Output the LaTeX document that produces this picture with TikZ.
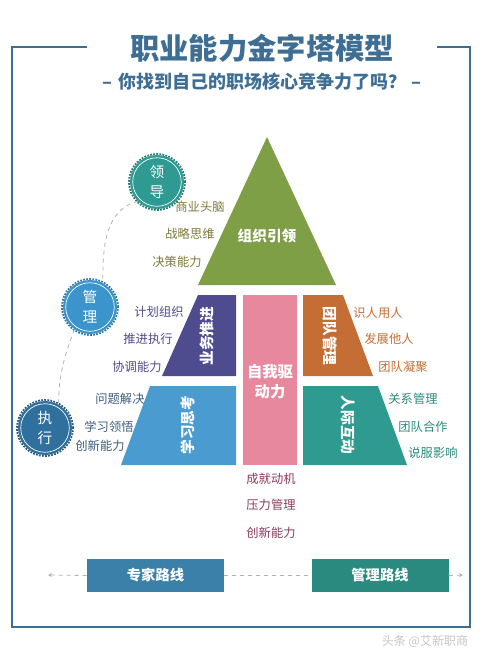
\documentclass[tikz,border=0pt]{standalone}
\usepackage{fontspec}
\setmainfont{Noto Sans CJK SC}
\usetikzlibrary{arrows.meta}
\definecolor{titleblue}{HTML}{3E6E94}
\definecolor{cgreen}{HTML}{7E9F45}
\definecolor{cpurple}{HTML}{4E4B8E}
\definecolor{cblue}{HTML}{4A9CD0}
\definecolor{cpink}{HTML}{E8889F}
\definecolor{corange}{HTML}{C46E35}
\definecolor{cteal}{HTML}{2E9A90}
\definecolor{colive}{HTML}{7F7A3C}
\definecolor{cslate}{HTML}{3E5E7C}
\definecolor{cmaroon}{HTML}{8E3A5A}
\definecolor{cteallab}{HTML}{2E8A80}
\definecolor{circteal}{HTML}{2E9A92}
\definecolor{circblue}{HTML}{3C94CC}
\definecolor{circdark}{HTML}{30709E}
\definecolor{boxblue}{HTML}{3A80A8}
\definecolor{boxteal}{HTML}{2A8A80}
\tikzset{
  lab/.style={font=\fontsize{9.2}{11}\selectfont, inner sep=0pt},
  intext/.style={font=\fontsize{11}{13}\selectfont\bfseries, text=white, inner sep=0pt},
  ring/.style={circle, minimum size=40.5pt, inner sep=0pt, text=white, align=center,
    font=\fontsize{11}{15}\selectfont},
  pathbox/.style={minimum width=102.75pt, minimum height=24.75pt, inner sep=0pt, text=white,
    font=\fontsize{10.7}{13}\selectfont\bfseries},
  conn/.style={gray!60, dashed, line width=0.6pt}
}
\newcommand{\ringdeco}[2]{%
  \draw[#2, densely dotted, line width=1.3pt] (#1) circle (21pt);
  \draw[white, line width=0.5pt] (#1) circle (18.2pt);
}
\begin{document}
\begin{tikzpicture}[x=0.75pt,y=-0.75pt]
\useasboundingbox (0,0) rectangle (483,654);
\fill[white] (0,0) rectangle (483,654);

% frame
\draw[titleblue, line width=2.2pt] (87,47) -- (12,47) -- (12,627) -- (470,627) -- (470,47) -- (437,47);

% titles
\node[font=\fontsize{22}{26}\selectfont\bfseries, text=titleblue, inner sep=0pt] (title) at (262,48) {职业能力金字塔模型};
\node[font=\fontsize{13.5}{16}\selectfont\bfseries, text=titleblue, inner sep=0pt] (sub) at (262,82) {–\hspace{5pt}你找到自己的职场核心竞争力了吗？\hspace{4pt}–};

% pyramid shapes
\fill[cgreen] (267,137) -- (336,285) -- (198,285) -- cycle;
\fill[cpurple] (198,295) -- (236,295) -- (236,376) -- (162,376) -- cycle;
\fill[cpink] (243,295) rectangle (297,465);
\fill[corange] (303,295) -- (343,295) -- (373,376) -- (303,376) -- cycle;
\fill[cblue] (150,386) -- (236,386) -- (236,465) -- (121,465) -- cycle;
\fill[cteal] (303,386) -- (378,386) -- (407,465) -- (303,465) -- cycle;

% pyramid texts
\node[intext] (zzyl) at (267,236) {组织引领};
\node[intext, rotate=90] (ywtj) at (207,336) {业务推进};
\node[intext, rotate=90] (xxsk) at (188,425) {学习思考};
\node[intext, rotate=-90] (tdgl) at (330,336) {团队管理};
\node[intext, rotate=-90] (rjhd) at (348,425) {人际互动};
\node[intext, align=center, font=\fontsize{11.5}{15}\selectfont\bfseries] (zwqd) at (270,382) {自我驱\\动力};

% labels left
\node[lab, text=colive] (l1) at (200,207) {商业头脑};
\node[lab, text=colive] (l2) at (190,234) {战略思维};
\node[lab, text=colive] (l3) at (177,262) {决策能力};
\node[lab, text=cpurple] (l4) at (159,312) {计划组织};
\node[lab, text=cpurple] (l5) at (148,339) {推进执行};
\node[lab, text=cpurple] (l6) at (137,367) {协调能力};
\node[lab, text=cslate] (l7) at (120,399) {问题解决};
\node[lab, text=cslate] (l8) at (109,427) {学习领悟};
\node[lab, text=cslate] (l9) at (100,446) {创新能力};
% labels right
\node[lab, text=corange] (r1) at (378,313) {识人用人};
\node[lab, text=corange] (r2) at (389,339) {发展他人};
\node[lab, text=corange] (r3) at (403,367) {团队凝聚};
\node[lab, text=cteallab] (r4) at (413,399) {关系管理};
\node[lab, text=cteallab] (r5) at (423,427) {团队合作};
\node[lab, text=cteallab] (r6) at (433,453) {说服影响};
% labels bottom
\node[lab, text=cmaroon] (b1) at (271,479) {成就动机};
\node[lab, text=cmaroon] (b2) at (271,505) {压力管理};
\node[lab, text=cmaroon] (b3) at (271,533) {创新能力};

% circles
\node[ring, fill=circteal] (ld) at (157,182) {领\\导};
\ringdeco{ld.center}{circteal!80!black}
\node[ring, fill=circblue] (gl) at (90,307) {管\\理};
\ringdeco{gl.center}{circblue!80!black}
\node[ring, fill=circdark] (zx) at (45,428) {执\\行};
\ringdeco{zx.center}{circdark!80!black}

\draw[conn] (ld.225) to[out=195,in=90] (gl.62);
\draw[conn] (gl.235) to[out=250,in=90] (zx.60);

% bottom route
\coordinate (la) at (48,575);
\coordinate (ra) at (463,575);
\node[pathbox, fill=boxblue] (zjlx) at (155.5,575.5) {专家路线};
\node[pathbox, fill=boxteal] (gllx) at (380,575.5) {管理路线};
\draw[conn, -{Stealth[length=3pt,width=3pt]}] (zjlx.west) -- (la);
\draw[conn] (zjlx.east) -- (gllx.west);
\draw[conn, -{Stealth[length=3pt,width=3pt]}] (gllx.east) -- (ra);

% watermark
\node[font=\fontsize{9}{11}\selectfont, text=gray!45, inner sep=0pt] (wm) at (425,641) {头条 @艾新职商};
\end{tikzpicture}
\end{document}
